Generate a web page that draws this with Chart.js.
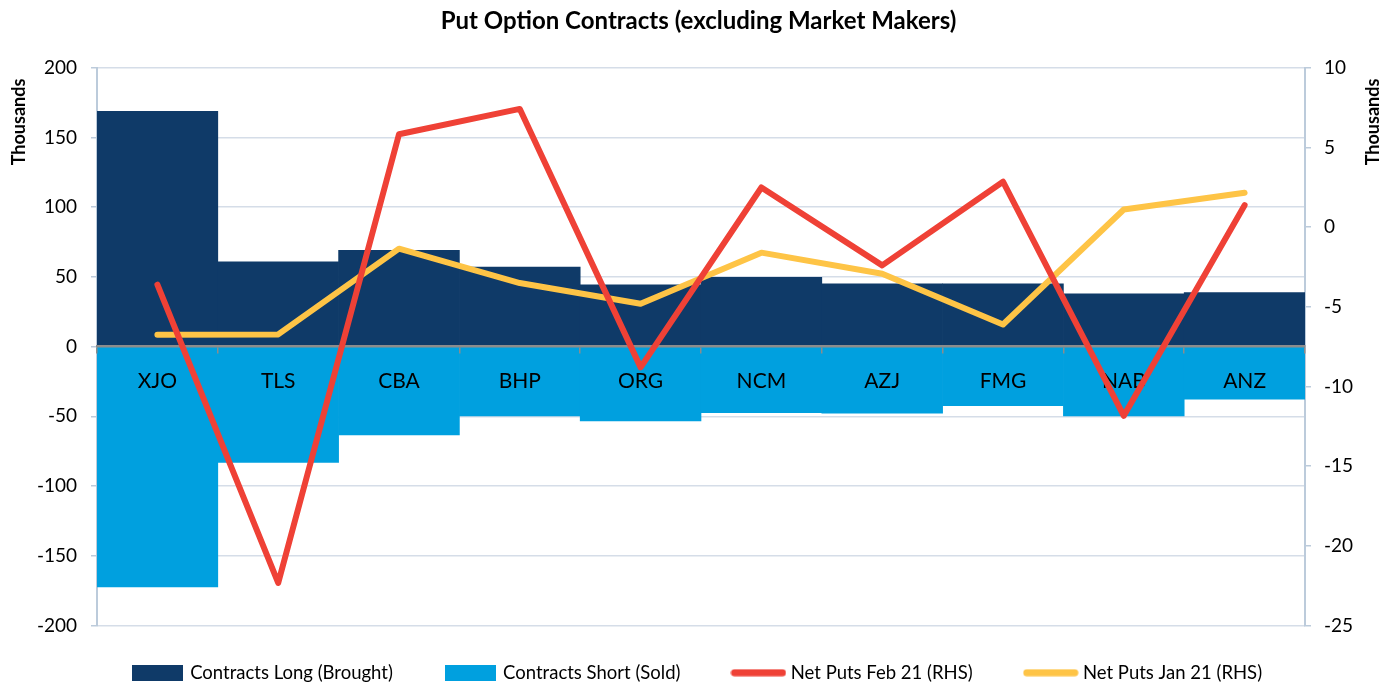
<!DOCTYPE html>
<html>
<head>
<meta charset="utf-8">
<script src="https://cdn.jsdelivr.net/npm/chart.js@4.4.1/dist/chart.umd.min.js"></script>
<style>
  html, body { margin: 0; padding: 0; background: #fff; }
</style>
</head>
<body>
<canvas id="myChart" width="1397" height="685"></canvas>
<script>
// values (bars in units, lines in thousands on RHS)
const labels = ['XJO', 'TLS', 'CBA', 'BHP', 'ORG', 'NCM', 'AZJ', 'FMG', 'NAB', 'ANZ'];
const contractsLong = [168.8, 60.9, 69, 57, 44.4, 49.8, 45.1, 45.1, 37.9, 38.8];
const contractsShort = [-172.4, -83, -63.3, -49.6, -53.2, -47.3, -47.7, -42.4, -49.6, -37.6];
const netPutsFeb = [-3.61, -22.33, 5.83, 7.42, -8.8, 2.49, -2.4, 2.85, -11.84, 1.38];
const netPutsJan = [-6.75, -6.73, -1.35, -3.51, -4.81, -1.6, -2.92, -6.11, 1.11, 2.16];
const leftTicks = [-200, -150, -100, -50, 0, 50, 100, 150, 200];
const rightTicks = [-25, -20, -15, -10, -5, 0, 5, 10];

const NAVY = '#0f3a68';
const SKY = '#00a0df';
const RED = '#ef4136';
const GOLD = '#fec446';
const FONT = 'Lato, "DejaVu Sans", sans-serif';

// legend icons
function barIcon(color) {
  const c = document.createElement('canvas');
  c.width = 51; c.height = 16;
  const g = c.getContext('2d');
  g.fillStyle = color;
  g.fillRect(0, 0, 51, 16);
  return c;
}
function lineIcon(color) {
  const c = document.createElement('canvas');
  c.width = 56; c.height = 8;
  const g = c.getContext('2d');
  g.strokeStyle = color;
  g.lineWidth = 7;
  g.lineCap = 'round';
  g.beginPath();
  g.moveTo(4, 4);
  g.lineTo(52, 4);
  g.stroke();
  return c;
}
const legendIcons = [barIcon(NAVY), barIcon(SKY), lineIcon(RED), lineIcon(GOLD)];

// draw the category axis after the bars but under the lines
const xAxisOverBars = {
  id: 'xAxisOverBars',
  afterLayout(chart) {
    const s = chart.scales.x;
    if (!s.$wrapped) {
      const orig = s.draw;
      s.draw = function (area) { if (this.$allow) orig.call(this, area); };
      s.$wrapped = true;
    }
    // wide item gaps in the legend, but keep it close to the plot
    if (chart.legend) {
      chart.legend.top -= 17;
      chart.legend.bottom -= 17;
    }
  },
  beforeDatasetsDraw(chart) { chart.$xDone = false; },
  beforeDatasetDraw(chart, args) {
    if (args.meta.type === 'line' && !chart.$xDone) {
      const s = chart.scales.x;
      s.$allow = true;
      s.draw(chart.chartArea);
      s.$allow = false;
      chart.$xDone = true;
    }
  }
};

// both "Thousands" titles read bottom to top
const axisTitles = {
  id: 'axisTitles',
  afterDraw(chart) {
    const ctx = chart.ctx;
    ctx.save();
    ctx.font = 'bold 18px ' + FONT;
    ctx.fillStyle = '#000';
    ctx.textAlign = 'center';
    ctx.textBaseline = 'middle';
    [19, 1373].forEach(x => {
      ctx.save();
      ctx.translate(x, 122);
      ctx.rotate(-Math.PI / 2);
      ctx.fillText('Thousands', 0, 0);
      ctx.restore();
    });
    ctx.restore();
  }
};

const ctx = document.getElementById('myChart');
new Chart(ctx, {
  data: {
    labels: labels,
    datasets: [
      {
        type: 'bar',
        label: 'Contracts Long (Brought)',
        data: contractsLong,
        backgroundColor: NAVY,
        borderWidth: 0,
        stack: 'c',
        yAxisID: 'y',
        order: 1
      },
      {
        type: 'bar',
        label: 'Contracts Short (Sold)',
        data: contractsShort,
        backgroundColor: SKY,
        borderWidth: 0,
        stack: 'c',
        yAxisID: 'y',
        order: 1
      },
      {
        type: 'line',
        label: 'Net Puts Feb 21 (RHS)',
        data: netPutsFeb,
        borderColor: RED,
        backgroundColor: RED,
        borderWidth: 6,
        pointRadius: 0,
        borderJoinStyle: 'round',
        borderCapStyle: 'round',
        yAxisID: 'y2',
        order: 0
      },
      {
        type: 'line',
        label: 'Net Puts Jan 21 (RHS)',
        data: netPutsJan,
        borderColor: GOLD,
        backgroundColor: GOLD,
        borderWidth: 6,
        pointRadius: 0,
        borderJoinStyle: 'round',
        borderCapStyle: 'round',
        yAxisID: 'y2',
        order: 0
      }
    ]
  },
  options: {
    responsive: false,
    animation: false,
    events: [],
    layout: { padding: { top: 0, bottom: -24, left: 0, right: 0 } },
    datasets: { bar: { categoryPercentage: 1, barPercentage: 1 } },
    scales: {
      x: {
        stacked: true,
        position: { y: 0 },
        offset: true,
        grid: { drawOnChartArea: false, drawTicks: true, tickLength: 6, color: '#8c8c8c', lineWidth: 1.5, offset: true },
        border: { display: true, color: '#8c8c8c', width: 2.5 },
        ticks: { font: { family: FONT, size: 21 }, color: '#000', padding: 16, maxRotation: 0 }
      },
      y: {
        stacked: true,
        position: 'left',
        min: leftTicks[0],
        max: leftTicks[leftTicks.length - 1],
        ticks: { stepSize: leftTicks[1] - leftTicks[0], font: { family: FONT, size: 19 }, color: '#000', padding: 14 },
        grid: { color: '#d5dde8', lineWidth: 1.5, tickLength: 6, tickColor: '#bccbdb' },
        border: { color: '#bccbdb', width: 2 },
        afterFit(s) { s.width = 97; }
      },
      y2: {
        position: 'right',
        min: rightTicks[0],
        max: rightTicks[rightTicks.length - 1],
        ticks: { stepSize: rightTicks[1] - rightTicks[0], font: { family: FONT, size: 19 }, color: '#000', padding: 13 },
        grid: { drawOnChartArea: false, tickLength: 6, color: '#bccbdb', lineWidth: 1.5 },
        border: { color: '#bccbdb', width: 2 },
        afterFit(s) { s.width = 92; }
      }
    },
    plugins: {
      title: {
        display: true,
        text: 'Put Option Contracts (excluding Market Makers)',
        font: { family: FONT, size: 24, weight: 'bold' },
        color: '#000',
        padding: { top: 7, bottom: 32 }
      },
      legend: {
        position: 'bottom',
        labels: {
          usePointStyle: true,
          pointStyleWidth: 46,
          padding: 55,
          color: '#000',
          font: { family: FONT, size: 18.5 },
          generateLabels(chart) {
            const items = Chart.defaults.plugins.legend.labels.generateLabels(chart);
            items.sort((a, b) => a.datasetIndex - b.datasetIndex);
            items.forEach(it => { it.pointStyle = legendIcons[it.datasetIndex]; });
            return items;
          }
        }
      },
      tooltip: { enabled: false }
    }
  },
  plugins: [xAxisOverBars, axisTitles]
});
</script>
</body>
</html>
